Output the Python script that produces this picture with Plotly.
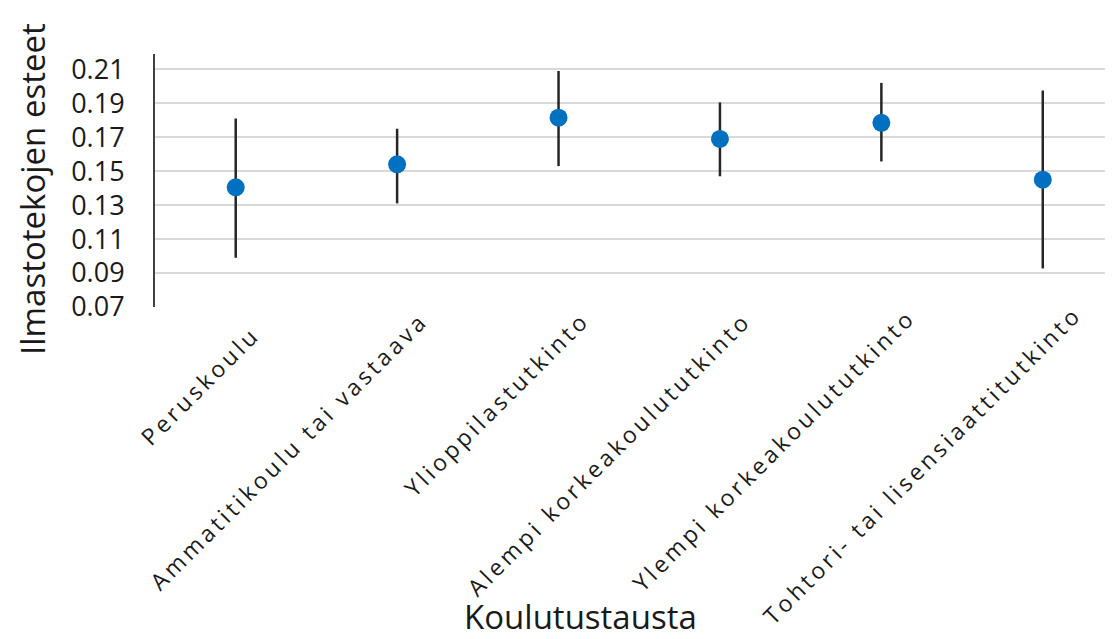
import plotly.graph_objects as go

categories = ["Peruskoulu", "Ammatitikoulu tai vastaava", "Ylioppilastutkinto",
              "Alempi korkeakoulututkinto", "Ylempi korkeakoulututkinto",
              "Tohtori- tai lisensiaattitutkinto"]
means = [0.1405, 0.154, 0.1815, 0.169, 0.1785, 0.145]
upper = [0.181, 0.175, 0.209, 0.1905, 0.202, 0.1975]
lower = [0.099, 0.131, 0.153, 0.147, 0.1557, 0.0927]
y_ticks = [0.07, 0.09, 0.11, 0.13, 0.15, 0.17, 0.19, 0.21]
y_tick_labels = ["0.07", "0.09", "0.11", "0.13", "0.15", "0.17", "0.19", "0.21"]
x_title = "Koulutustausta"
y_title = "Ilmastotekojen esteet"

err_plus = [u - m for u, m in zip(upper, means)]
err_minus = [m - l for m, l in zip(means, lower)]

FONT = "Open Sans"
TXT = "#1a1a1a"

fig = go.Figure()
fig.add_trace(go.Scatter(
    x=list(range(len(categories))), y=means, mode="markers",
    marker=dict(color="#0070C0", size=18),
    error_y=dict(type="data", symmetric=False, array=err_plus, arrayminus=err_minus,
                 color="#262626", thickness=2.5, width=0),
    showlegend=False,
))

# page has an 8px body margin; figure sized to fit the 1113x639 window
W, H = 1105, 631
L, T, B = 147, 46, 332
plot_w = W - L
plot_h = H - T - B
plot_bottom = T + plot_h

# label placement tweaks (pixels): first label sits a little lower in the original
label_shift = [(-6, -14), (0, 0), (0, 0), (0, 0), (3, 3), (8, 6)]

annotations = []
for i, cat in enumerate(categories):
    dx, dy = label_shift[i]
    annotations.append(dict(
        text='<span style="letter-spacing:3.5px">' + cat + '</span>',
        xref="x", yref="paper", x=i, y=0,
        xanchor="right", yanchor="top", textangle=-45,
        xshift=40 + dx, yshift=5 + dy, showarrow=False,
        font=dict(size=23, family=FONT, color=TXT),
    ))
annotations.append(dict(
    text=x_title, xref="paper", yref="paper",
    x=(572 - L) / plot_w, y=(plot_bottom - 608) / plot_h,
    xanchor="center", yanchor="middle", showarrow=False,
    font=dict(size=33, family=FONT, color=TXT)))
annotations.append(dict(
    text=y_title, xref="paper", yref="paper",
    x=(24 - L) / plot_w, y=(plot_bottom - 181) / plot_h, textangle=-90,
    xanchor="center", yanchor="middle", showarrow=False,
    font=dict(size=33, family=FONT, color=TXT)))

fig.update_layout(
    width=W, height=H,
    margin=dict(l=L, r=0, t=T, b=B, autoexpand=False),
    paper_bgcolor="white", plot_bgcolor="white",
    font=dict(family=FONT, color=TXT),
    xaxis=dict(
        range=[-0.5, 5.435], showticklabels=False,
        showgrid=False, zeroline=False, showline=False, ticks="",
        automargin=False,
    ),
    yaxis=dict(
        range=[0.07, 0.219], tickmode="array", tickvals=y_ticks, ticktext=y_tick_labels,
        tickfont=dict(size=27, family=FONT, color=TXT),
        showgrid=True, gridcolor="#d9d9d9", gridwidth=2,
        zeroline=False, showline=True, linecolor="#404040", linewidth=2,
        ticks="", automargin=False, ticklabelstandoff=23,
    ),
    annotations=annotations,
)

fig.write_html("out.html")
